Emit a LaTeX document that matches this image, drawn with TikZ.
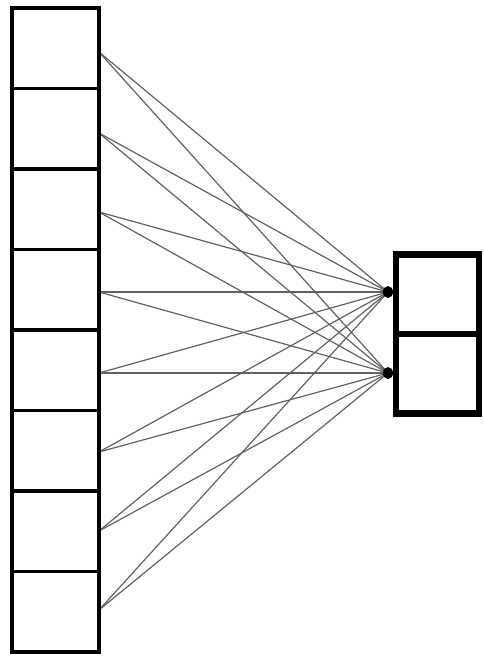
\documentclass[tikz,border=0pt]{standalone}
\begin{document}
\begin{tikzpicture}[x=1pt,y=-1pt,
  lbox/.style={draw=black,line width=3.8pt,minimum width=87pt,minimum height=80.5pt,inner sep=0pt,outer sep=0pt},
  rbox/.style={draw=black,line width=6.5pt,minimum width=83pt,minimum height=79.5pt,inner sep=0pt,outer sep=0pt},
  wire/.style={draw=black!62,line width=1.2pt},
  dot/.style={ellipse,fill=black,minimum width=10pt,minimum height=12pt,inner sep=0pt}]
\useasboundingbox (0,0) rectangle (484,657);
% attach points on the left column
\foreach \i/\y in {1/52,2/133,3/212,4/292,5/373,6/452,7/531,8/610}{
  \coordinate (p\i) at (99,\y);
}
\coordinate (d1) at (388,292);
\coordinate (d2) at (388,373);
\foreach \i in {1,...,8}{
  \draw[wire] (p\i) -- (d1);
  \draw[wire] (p\i) -- (d2);
}
% left column boxes
\foreach \i in {0,...,7}{
  \node[lbox] (l\i) at (55.5,{48.25+80.5*\i}) {};
}
% right column boxes
\node[rbox] (r1) at (437.5,294) {};
\node[rbox] (r2) at (437.5,373.5) {};
\fill (d1) ellipse [x radius=5pt, y radius=6pt];
\fill (d2) ellipse [x radius=5pt, y radius=6pt];
\end{tikzpicture}
\end{document}
